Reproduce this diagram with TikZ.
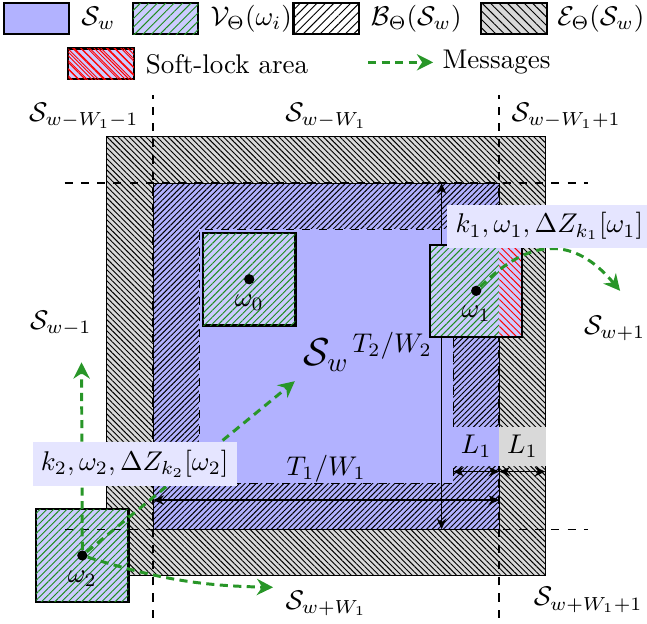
\documentclass[tikz,border=0pt]{standalone}
\usepackage{amsmath,amssymb}
\usepackage{tikz}
\usetikzlibrary{positioning, patterns.meta, arrows.meta}

\definecolor{msggreen}{RGB}{40,150,40}
\definecolor{vgreen}{RGB}{30,140,30}

\tikzset{hatch/.style args={#1/#2/#3}{postaction={pattern={Lines[angle=#1,distance=#3,line width=.35pt]}, pattern color=#2}}}

\tikzstyle{ezone} = [draw=black, fill=black!15, hatch=-45/black/1.45pt]
\tikzstyle{bzone} = [draw=black, fill=blue!30, hatch=45/black/1.45pt]
\tikzstyle{izone} = [draw=black, dashed, fill=blue!30]
\tikzstyle{agent} = [rectangle, draw=black, thick, outer sep=0pt,
minimum size=1.2cm,
fill=blue!20, hatch=45/vgreen/1.75pt]
\tikzstyle{lockzone} = [fill=blue!20, hatch=-45/red/1.75pt]
\tikzstyle{agentdot} = [circle, fill=black, inner sep=0pt, minimum size=3.8pt]
\tikzstyle{legbox} = [rectangle, draw=black, thick,
minimum width=0.85cm,
minimum height=0.4cm]
\tikzstyle{msgnote} = [rectangle, fill=blue!10, inner sep=3pt]
\tikzstyle{cellline} = [semithick, dashed]
\tikzstyle{measure} = [semithick, <->, >={Stealth[length=4pt,width=3.5pt]}]
\tikzstyle{msg} = [-{Stealth[length=6pt,width=6pt]}, msggreen, line width=1.1pt, dash pattern=on 3pt off 2pt]

\begin{document}
\begin{tikzpicture}
\useasboundingbox (-1.99,-1.22) rectangle (6.42,6.88);

% legend
\node (lgS) [legbox, fill=blue!30] at (-1.515,6.637) {};
\node (lgSt) [right=0.2mm of lgS] {$\mathcal{S}_w$};
\node (lgV) [legbox, fill=blue!20, hatch=45/vgreen/2.2pt] at (0.163,6.637) {};
\node (lgVt) [right=0.2mm of lgV] {$\mathcal{V}_\Theta(\omega_i)$};
\node (lgB) [legbox, fill=white, hatch=45/black/2.2pt] at (2.249,6.637) {};
\node (lgBt) [right=0.2mm of lgB] {$\mathcal{B}_\Theta(\mathcal{S}_w)$};
\node (lgE) [legbox, fill=black!15, hatch=-45/black/2.2pt] at (4.69,6.637) {};
\node (lgEt) [right=0mm of lgE] {$\mathcal{E}_\Theta(\mathcal{S}_w)$};
\node (lgL) [legbox, lockzone, hatch=-45/red/2.2pt] at (-0.676,6.05) {};
\node (lgLt) [right=0.2mm of lgL] {Soft-lock area};
\coordinate (msgA) at (2.795,6.07);
\node (lgM) [anchor=west] at (3.64,6.07) {Messages};
\draw [msg] (msgA) -- (lgM);

% cell S_w, its border band and the outer band
\coordinate (eSW) at (-0.6,-0.6);
\coordinate (eNE) at (5.1,5.1);
\coordinate (bSW) at (0,0);
\coordinate (bNE) at (4.5,4.5);
\coordinate (iSW) at (0.6,0.6);
\coordinate (iNE) at (3.9,3.9);

\draw [ezone] (eSW) rectangle (eNE);
\draw [bzone] (bSW) rectangle (bNE);
\draw [izone] (iSW) rectangle (iNE);

\node (w2) [agent] at (-0.92,-0.34) {};

\foreach \c in {0,4.5} {
  \draw [cellline] (\c,-1.15) -- (\c,5.65);
  \draw [cellline] (-1.15,\c) -- (5.65,\c);
}

% sizes
\coordinate (t2a) at (3.75,0);
\coordinate (t2b) at (3.75,4.5);
\coordinate (t1a) at (0,0.38);
\coordinate (t1b) at (4.5,0.38);
\coordinate (l1a) at (3.9,0.75);
\coordinate (l1b) at (4.5,0.75);
\coordinate (l1c) at (5.1,0.75);

\draw [measure] (t2a) -- (t2b) node (t2lbl) [pos=0.53, left, black] {$T_2/W_2$};
\draw [measure] (t1a) -- (t1b) node (t1lbl) [midway, above=3pt, black] {$T_1/W_1$};
\draw [measure] (l1a) -- (l1b);
\draw [measure] (l1b) -- (l1c);
\node (l1in) [fill=blue!30, minimum width=0.58cm, inner sep=3pt] at (4.2,1.08) {$L_1$};
\node (l1out) [fill=black!15, minimum width=0.58cm, inner sep=3pt] at (4.8,1.08) {$L_1$};

% agents
\node (w0) [agent] at (1.25,3.25) {};
\node (w1) [agent] at (4.2,3.1) {};
\fill [lockzone] (w1.south -| bNE) rectangle (w1.north east);
\draw [thick] (w1.south west) rectangle (w1.north east);

\node (d0) [agentdot] at (w0) {};
\node (d1) [agentdot] at (w1) {};
\node (d2) [agentdot] at (w2) {};
\node (o0) [below=0pt of d0] {$\omega_0$};
\node (o1) [below=0pt of d1] {$\omega_1$};
\node (o2) [below=0pt of d2] {$\omega_2$};

% neighbouring cells
\node (sNW) at (-0.9,5.38) {$\mathcal{S}_{w-W_1-1}$};
\node (sN) at (2.25,5.38) {$\mathcal{S}_{w-W_1}$};
\node (sNE) at (5.37,5.38) {$\mathcal{S}_{w-W_1+1}$};
\node (sW) at (-1.2,2.68) {$\mathcal{S}_{w-1}$};
\node (sE) at (6.0,2.61) {$\mathcal{S}_{w+1}$};
\node (sS) at (2.25,-0.96) {$\mathcal{S}_{w+W_1}$};
\node (sSE) at (5.655,-0.92) {$\mathcal{S}_{w+W_1+1}$};
\node (swlbl) [font=\Large] at (2.25,2.26) {$\mathcal{S}_w$};

% messages
\coordinate (upEnd) at (-0.93,2.17);
\coordinate (southEnd) at (1.56,-0.754);
\coordinate (eastEnd) at (6.07,3.1);
\draw [msg] (d2) -- (upEnd);
\draw [msg] (d2) -- (swlbl);
\draw [msg] (d2) to[bend right=8] (southEnd);
\draw [msg] (d1) to[out=45, in=130, looseness=1.3] (eastEnd);

\node (k1lbl) [msgnote] at (5.15,3.94) {$k_1,\omega_1,\Delta Z_{k_1}[\omega_1]$};
\node (k2lbl) [msgnote] at (-0.24,0.85) {$k_2,\omega_2,\Delta Z_{k_2}[\omega_2]$};

\end{tikzpicture}
\end{document}
